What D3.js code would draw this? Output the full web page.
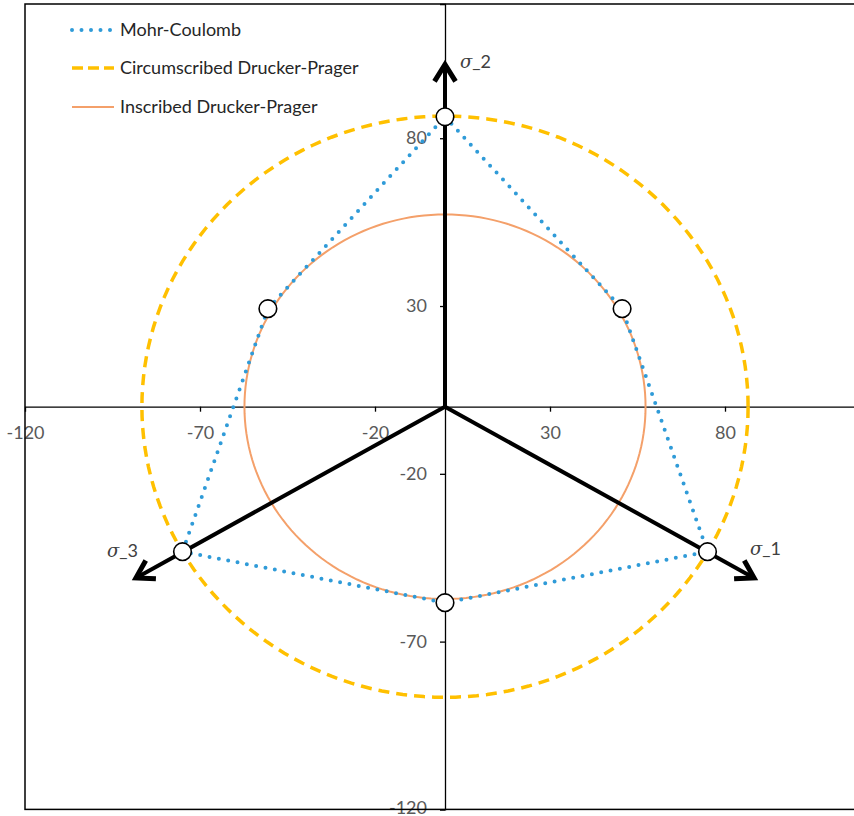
<!DOCTYPE html>
<html>
<head>
<meta charset="utf-8">
<script src="https://cdn.jsdelivr.net/npm/d3@7"></script>
<style>
  html, body { margin: 0; padding: 0; background: #fff; }
  svg { display: block; }
  text { font-family: Lato, "Open Sans", sans-serif; }
</style>
</head>
<body>
<svg id="chart" width="854" height="816"></svg>
<script>
// Deviatoric plane: Mohr-Coulomb hexagon and the two Drucker-Prager circles
const tickValues = [-120, -70, -20, 30, 80];

// Mohr-Coulomb hexagon vertices (closed path)
const mcX = [0, 50.6, 75.0, 0, -75.0, -50.6, 0];
const mcY = [86.4, 29.2, -43.2, -58.4, -43.2, 29.2, 86.4];

// Drucker-Prager circle radii
const circumRadius = 86.6;
const inscribedRadius = 57.3;

// Principal stress axes (end points of the arrows)
const axisNames = ["σ_1", "σ_2", "σ_3"];
const axisEndX = [88.8, 0, -88.8];
const axisEndY = [-51.3, 102.6, -51.3];

const legendNames = ["Mohr-Coulomb", "Circumscribed Drucker-Prager", "Inscribed Drucker-Prager"];

const svg = d3.select("#chart");
const x = d3.scaleLinear().domain([-120, 120]).range([25, 865]);
const y = d3.scaleLinear().domain([-120, 120]).range([809.4, 4]);

const colMC = "#2f9bd8", colCirc = "#ffc000", colIns = "#f4a06a";
const fontMain = "Lato, 'Open Sans', sans-serif";
const fmt = d => String(d);

// circle points
const circlePts = (r) => d3.range(0, 361, 2).map(a => [r * Math.cos(a * Math.PI / 180), r * Math.sin(a * Math.PI / 180)]);
const line = d3.line().x(d => x(d[0])).y(d => y(d[1])).curve(d3.curveLinear);

// axes
const gx = svg.append("g").attr("transform", `translate(0,${y(0)})`)
  .call(d3.axisBottom(x).tickValues(tickValues).tickSize(5).tickPadding(15).tickFormat(fmt));
const gy = svg.append("g").attr("transform", `translate(${x(0)},0)`)
  .call(d3.axisLeft(y).tickValues(tickValues).tickSize(5).tickPadding(13).tickFormat(fmt));
[gx, gy].forEach(g => {
  g.select(".domain").attr("stroke", "#000").attr("stroke-width", 1.3);
  g.selectAll(".tick line").attr("stroke", "#000").attr("stroke-width", 1.3);
  g.selectAll(".tick text").attr("fill", "#595959").style("font-size", "18px")
    .style("font-family", fontMain);
});
gx.selectAll(".tick").filter(d => d === -120).select("line").remove();
gy.selectAll(".tick").filter(d => d === -120).select("text").attr("dy", "0.2em");

// inscribed circle
svg.append("path").datum(circlePts(inscribedRadius)).attr("d", line)
  .attr("fill", "none").attr("stroke", colIns).attr("stroke-width", 2);

// circumscribed circle
svg.append("path").datum(circlePts(circumRadius)).attr("d", line)
  .attr("fill", "none").attr("stroke", colCirc).attr("stroke-width", 3.5)
  .attr("stroke-dasharray", "11,7");

// Mohr-Coulomb hexagon
const mcPts = mcX.map((v, i) => [v, mcY[i]]);
svg.append("path").datum(mcPts).attr("d", line)
  .attr("fill", "none").attr("stroke", colMC).attr("stroke-width", 4)
  .attr("stroke-linecap", "round").attr("stroke-dasharray", "0,9.5");

// principal stress arrows
axisEndX.forEach((ex, i) => {
  const x0 = x(0), y0 = y(0), x1 = x(ex), y1 = y(axisEndY[i]);
  const ang = Math.atan2(y1 - y0, x1 - x0);
  const tx = x1 - 2 * Math.cos(ang), ty = y1 - 2 * Math.sin(ang);
  svg.append("line").attr("x1", x0).attr("y1", y0).attr("x2", tx).attr("y2", ty)
    .attr("stroke", "#000").attr("stroke-width", 4);
  const L = 17, W = 10.5;
  const bx = tx - L * Math.cos(ang), by = ty - L * Math.sin(ang);
  const px = -Math.sin(ang) * W, py = Math.cos(ang) * W;
  svg.append("path")
    .attr("d", `M${bx + px},${by + py}L${tx},${ty}L${bx - px},${by - py}`)
    .attr("fill", "none").attr("stroke", "#000").attr("stroke-width", 5)
    .attr("stroke-linejoin", "miter").attr("stroke-linecap", "butt");
});

// axis names
const namePos = [[750, 555], [460, 68], [107, 557]];
axisNames.forEach((n, i) => {
  const t = svg.append("text")
    .attr("x", namePos[i][0]).attr("y", namePos[i][1])
    .attr("fill", "#404040").style("font-size", "18px");
  t.append("tspan").text(n[0]).style("font-family", "'DejaVu Serif', serif").style("font-style", "italic");
  t.append("tspan").text(n.slice(1)).style("font-family", fontMain);
});

// vertex markers
svg.selectAll("circle.vtx").data(mcPts.slice(0, 6)).enter().append("circle")
  .attr("class", "vtx").attr("cx", d => x(d[0])).attr("cy", d => y(d[1])).attr("r", 8.8)
  .attr("fill", "#fff").attr("stroke", "#000").attr("stroke-width", 1.6);

// frame
svg.append("rect").attr("x", x(-120)).attr("y", y(120))
  .attr("width", x(120) - x(-120)).attr("height", y(-120) - y(120))
  .attr("fill", "none").attr("stroke", "#000").attr("stroke-width", 1.5);

// legend
const legendY = [30, 68, 107];
const leg = svg.append("g");
legendNames.forEach((n, i) => {
  const ly = legendY[i];
  const l = leg.append("line").attr("x1", 72).attr("x2", 114).attr("y1", ly).attr("y2", ly);
  if (i === 0) l.attr("stroke", colMC).attr("stroke-width", 4).attr("stroke-linecap", "round").attr("stroke-dasharray", "0,9.5");
  else if (i === 1) l.attr("stroke", colCirc).attr("stroke-width", 3.5).attr("stroke-dasharray", "11,5");
  else l.attr("stroke", colIns).attr("stroke-width", 2);
  leg.append("text").attr("x", 120).attr("y", ly + 6).text(n)
    .attr("fill", "#262626").style("font-size", "18px");
});
</script>
</body>
</html>
